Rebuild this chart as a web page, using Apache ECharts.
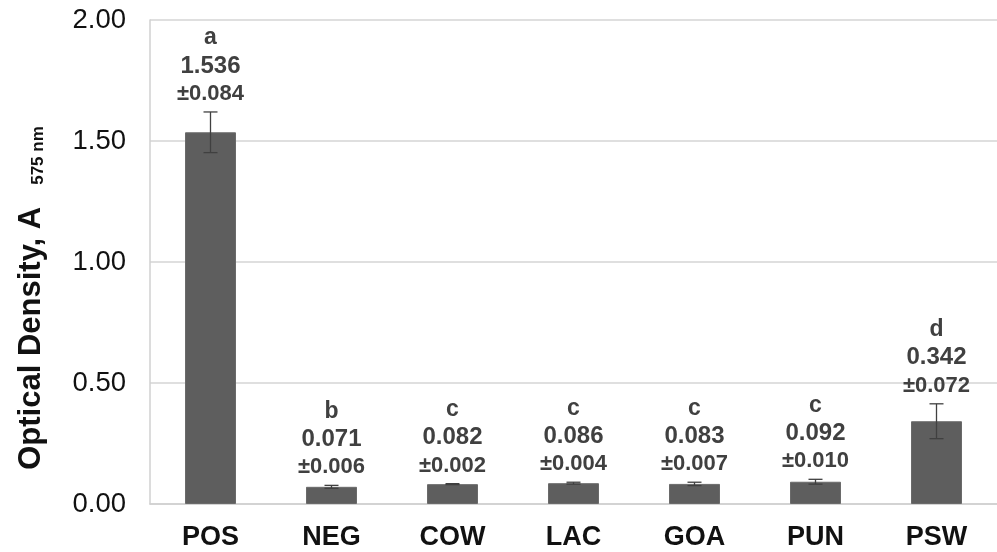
<!DOCTYPE html>
<html>
<head>
<meta charset="utf-8">
<script src="https://cdn.jsdelivr.net/npm/echarts@6/dist/echarts.min.js"></script>
<style>
  html, body { margin: 0; padding: 0; background: #fff; }
  #chart { width: 997px; height: 552px; }
</style>
</head>
<body>
<div id="chart"></div>
<script>
// Samples and measured optical density (mean ± SD)
const categories = ['POS', 'NEG', 'COW', 'LAC', 'GOA', 'PUN', 'PSW'];
const means = [1.536, 0.071, 0.082, 0.086, 0.083, 0.092, 0.342];
const sds = [0.084, 0.006, 0.002, 0.004, 0.007, 0.010, 0.072];
const letters = ['a', 'b', 'c', 'c', 'c', 'c', 'd'];
const yTicks = [0, 0.5, 1.0, 1.5, 2.0];

const FONT = '"Liberation Sans", Arial, sans-serif';
const FONT_NARROW = '"Liberation Sans Narrow", "Arial Narrow", "Liberation Sans", sans-serif';
const TEXT_DARK = '#404040';

const chart = echarts.init(document.getElementById('chart'), null, { renderer: 'canvas' });

const option = {
  animation: false,
  backgroundColor: '#ffffff',
  grid: { left: 150, right: -13, top: 20, bottom: 48, containLabel: false },
  xAxis: {
    type: 'category',
    data: categories,
    axisLine: { show: true, lineStyle: { color: '#d0d0d0', width: 1.5 } },
    axisTick: { show: false },
    axisLabel: {
      color: '#111111',
      fontFamily: FONT,
      fontWeight: 'bold',
      fontSize: 27,
      margin: 20
    }
  },
  yAxis: {
    type: 'value',
    min: yTicks[0],
    max: yTicks[yTicks.length - 1],
    interval: 0.5,
    name: '{t|Optical Density, A}{s|575 nm}',
    nameLocation: 'middle',
    nameGap: 103,
    nameTextStyle: {
      rich: {
        t: { fontFamily: FONT, fontWeight: 'bold', fontSize: 31, color: '#111111', lineHeight: 34, verticalAlign: 'bottom' },
        s: { fontFamily: FONT_NARROW, fontWeight: 'bold', fontSize: 17, color: '#111111', lineHeight: 18, verticalAlign: 'bottom',
             padding: [0, 72, 0, 22] }
      }
    },
    axisLine: { show: true, lineStyle: { color: '#d0d0d0', width: 1.5 } },
    axisTick: { show: false },
    splitLine: { show: true, lineStyle: { color: '#d4d4d4', width: 1.5 } },
    axisLabel: {
      color: '#111111',
      fontFamily: FONT,
      fontSize: 27.5,
      margin: 24,
      formatter: v => v.toFixed(2)
    }
  },
  series: [
    {
      type: 'bar',
      data: means,
      barWidth: 51,
      itemStyle: { color: '#5e5e5e', borderColor: '#6a6a6a', borderWidth: 1 }
    },
    {
      type: 'custom',
      z: 10,
      data: categories.map((c, i) => [i, means[i], sds[i]]),
      renderItem: function (params, api) {
        const i = api.value(0);
        const m = api.value(1);
        const s = api.value(2);
        const top = api.coord([i, m + s]);
        const bot = api.coord([i, m - s]);
        const cx = top[0];
        const cap = 7;
        const line = { stroke: TEXT_DARK, lineWidth: 1.3 };
        return {
          type: 'group',
          children: [
            { type: 'line', shape: { x1: cx, y1: top[1], x2: cx, y2: bot[1] }, style: line },
            { type: 'line', shape: { x1: cx - cap, y1: top[1], x2: cx + cap, y2: top[1] }, style: line },
            { type: 'line', shape: { x1: cx - cap, y1: bot[1], x2: cx + cap, y2: bot[1] }, style: line },
            {
              type: 'text',
              style: {
                x: cx,
                y: top[1] - 4,
                align: 'center',
                verticalAlign: 'bottom',
                text: '{l|' + letters[i] + '}\n{v|' + m.toFixed(3) + '}\n{e|±' + s.toFixed(3) + '}',
                rich: {
                  l: { fontFamily: FONT, fontWeight: 'bold', fontSize: 23, fill: TEXT_DARK, lineHeight: 28, align: 'center' },
                  v: { fontFamily: FONT, fontWeight: 'bold', fontSize: 24, fill: TEXT_DARK, lineHeight: 28, align: 'center' },
                  e: { fontFamily: FONT, fontWeight: 'bold', fontSize: 22, fill: TEXT_DARK, lineHeight: 28, align: 'center' }
                }
              }
            }
          ]
        };
      }
    }
  ]
};

chart.setOption(option);
</script>
</body>
</html>
